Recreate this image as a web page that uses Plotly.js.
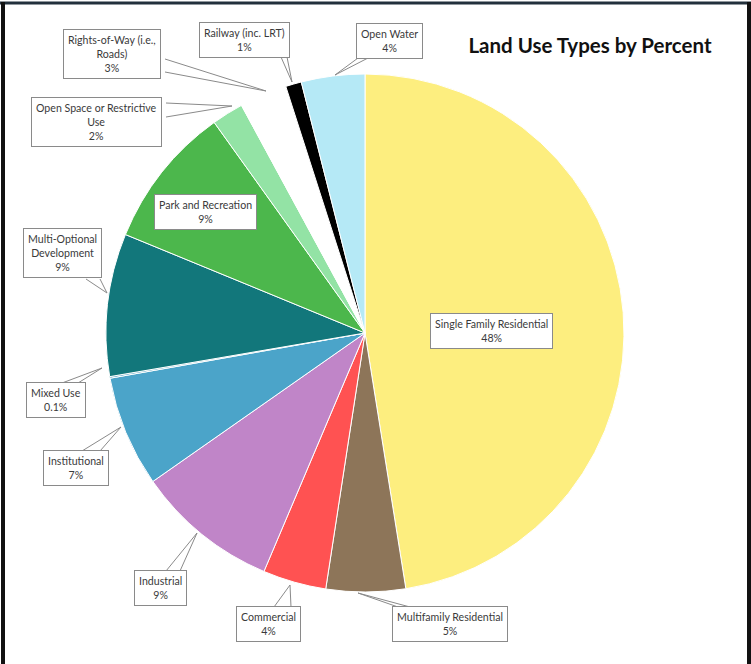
<!DOCTYPE html>
<html>
<head>
<meta charset="utf-8">
<script src="https://cdn.plot.ly/plotly-3.0.1.min.js"></script>
<style>html,body{margin:0;padding:0;background:#fff;}#chart{width:751px;height:664px;}</style>
</head>
<body>
<div id="chart"></div>
<script>
// ---- data ----
const categories = ["Single Family Residential","Multifamily Residential","Commercial","Industrial","Institutional","Mixed Use","Multi-Optional Development","Park and Recreation","Open Space or Restrictive Use","Rights-of-Way (i.e., Roads)","Railway (inc. LRT)","Open Water"];
const boxLabels = ["Single Family Residential","Multifamily Residential","Commercial","Industrial","Institutional","Mixed Use","Multi-Optional<br>Development","Park and Recreation","Open Space or Restrictive<br>Use","Rights-of-Way (i.e.,<br>Roads)","Railway (inc. LRT)","Open Water"];
const percents = [48, 5, 4, 9, 7, 0.1, 9, 9, 2, 3, 1, 4];
const sliceColors = ["#FDEE7F","#8D7559","#FF5252","#C085C8","#4BA4C9","#3C93B8","#12777B","#4CB74C","#93E3A5","#FFFFFF","#000000","#B5E9F6"];

// ---- layout helpers (pixel positions of callout boxes & leader lines) ----
const W = 751, H = 664;
const px = x => x / W, py = y => 1 - y / H;
const callouts = [
  {c:[491,331]},
  {c:[450,624], b:[[398,607],[410,607]], t:[358,593]},
  {c:[268,624], b:[[274,607],[291,607]], t:[290,585]},
  {c:[160,588], b:[[166,571],[180,571]], t:[197,533]},
  {c:[76,468],  b:[[82,451],[100,451]], t:[121,427]},
  {c:[56,400],  b:[[62,383],[78,383]], t:[102,368]},
  {c:[62,253],  b:[[86,279],[100,279]], t:[107,293]},
  {c:[205,212]},
  {c:[96,122],  b:[[166,103],[166,117]], t:[232,106]},
  {c:[112,54],  b:[[165,59],[165,72]], t:[266,91]},
  {c:[244,40],  b:[[281,57],[287,57]], t:[292,82]},
  {c:[389,41],  b:[[358,58],[368,58]], t:[335,75]}
];

const annotations = [];
const shapes = [];
callouts.forEach((co, i) => {
  annotations.push({
    xref:'paper', yref:'paper', x:px(co.c[0]), y:py(co.c[1]),
    xanchor:'center', yanchor:'middle', showarrow:false,
    text: boxLabels[i] + '<br>' + percents[i] + '%',
    font:{family:'Lato, "Open Sans", sans-serif', size:10.6, color:'#3a3a3a'},
    bgcolor:'#ffffff', bordercolor:'#8a8a8a', borderwidth:1, borderpad:4,
    align:'center'
  });
  if (co.b) {
    co.b.forEach(p => shapes.push({
      type:'line', xref:'paper', yref:'paper', layer:'above',
      x0:px(p[0]), y0:py(p[1]), x1:px(co.t[0]), y1:py(co.t[1]),
      line:{color:'#8a8a8a', width:1}
    }));
  }
});
// frame
shapes.push({type:'line', xref:'paper', yref:'paper', x0:0, x1:1, y0:py(3), y1:py(3), line:{color:'#22303c', width:3}});
shapes.push({type:'line', xref:'paper', yref:'paper', x0:px(3), x1:px(3), y0:0, y1:py(2), line:{color:'#111', width:4}});
shapes.push({type:'line', xref:'paper', yref:'paper', x0:px(749), x1:px(749), y0:0, y1:py(2), line:{color:'#111', width:4}});

const cx = 365, cy = 333, r = 259;
const trace = {
  type:'pie',
  labels: categories,
  values: percents,
  sort:false,
  direction:'clockwise',
  rotation:0,
  textinfo:'none',
  hoverinfo:'none',
  showlegend:false,
  automargin:false,
  marker:{colors: sliceColors, line:{color:'#ffffff', width:1}},
  domain:{x:[px(cx - r), px(cx + r)], y:[py(cy + r), py(cy - r)]}
};

const layout = {
  width:W, height:H,
  margin:{l:0, r:0, t:0, b:0},
  paper_bgcolor:'#ffffff',
  showlegend:false,
  title:{text:'<b>Land Use Types by Percent</b>', x:px(590), xanchor:'center', xref:'paper', yref:'paper', y:py(46), yanchor:'middle',
         font:{family:'Lato, "Open Sans", sans-serif', size:20.5, color:'#111'}},
  annotations: annotations,
  shapes: shapes
};

Plotly.newPlot('chart', [trace], layout, {displayModeBar:false, staticPlot:true});
</script>
</body>
</html>
